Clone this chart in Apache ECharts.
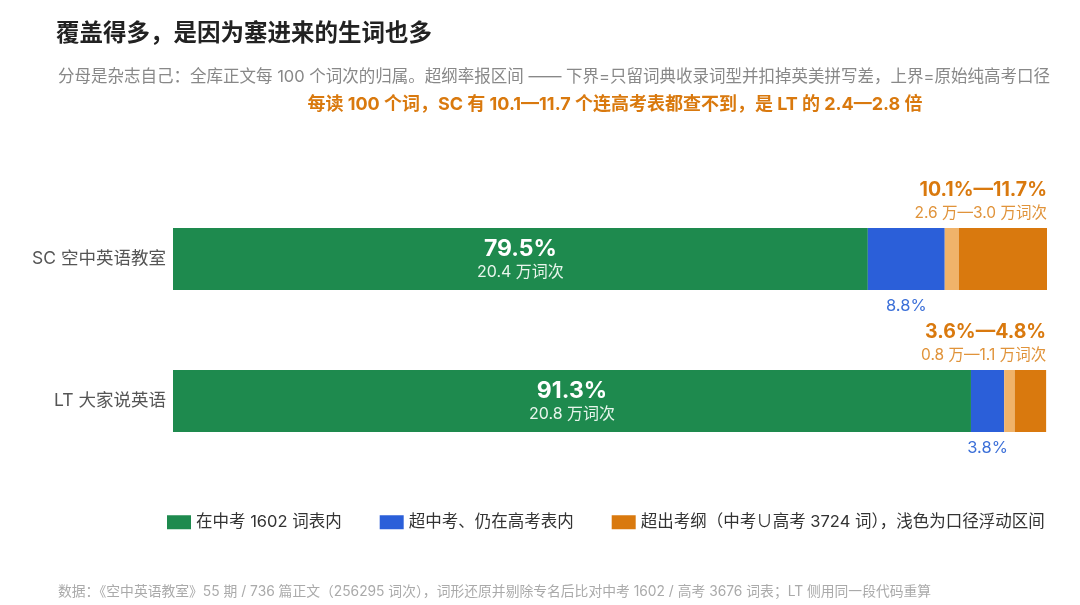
<!DOCTYPE html>
<html>
<head>
<meta charset="utf-8">
<script src="https://cdn.jsdelivr.net/npm/echarts@6/dist/echarts.min.js"></script>
<style>
  html, body { margin: 0; padding: 0; background: #fff; }
  #main { width: 1080px; height: 605px; }
</style>
</head>
<body>
<div id="main"></div>
<script>
var categories = ['SC 空中英语教室', 'LT 大家说英语'];
var inZhongkao = [79.5, 91.3];
var inGaokao = [8.8, 3.8];
var beyondLow = [10.1, 3.6];
var beyondHigh = [11.7, 4.8];
var tokensIn = ['20.4', '20.8'];
var tokensBeyondLow = ['2.6', '0.8'];
var tokensBeyondHigh = ['3.0', '1.1'];

var legendNames = ['在中考 1602 词表内', '超中考、仍在高考表内', '超出考纲（中考∪高考 3724 词），浅色为口径浮动区间'];
var font = 'Inter, "Noto Sans CJK SC", sans-serif';

// light part = upper bound minus lower bound
var beyondFloat = beyondHigh.map(function (v, i) {
    return +(v - beyondLow[i]).toFixed(1);
});

var dom = document.getElementById('main');
var myChart = echarts.init(dom);

var option = {
    backgroundColor: '#fff',
    textStyle: { fontFamily: font },
    title: [{
        text: '覆盖得多，是因为塞进来的生词也多',
        left: 51,
        top: 17,
        textStyle: { fontSize: 23.5, fontWeight: 'bold', color: '#222', fontFamily: font }
    }, {
        text: '分母是杂志自己：全库正文每 100 个词次的归属。超纲率报区间 —— 下界=只留词典收录词型并扣掉英美拼写差，上界=原始纯高考口径',
        left: 53,
        top: 64,
        textStyle: { fontSize: 16.5, fontWeight: 'normal', color: '#888', fontFamily: font }
    }, {
        text: '每读 100 个词，SC 有 10.1—11.7 个连高考表都查不到，是 LT 的 2.4—2.8 倍',
        left: 610,
        textAlign: 'center',
        top: 91,
        textStyle: { fontSize: 18, fontWeight: 'bold', color: '#d9790e', fontFamily: font }
    }, {
        text: '数据：《空中英语教室》55 期 / 736 篇正文（256295 词次），词形还原并剔除专名后比对中考 1602 / 高考 3676 词表；LT 侧用同一段代码重算',
        left: 53,
        top: 580,
        textStyle: { fontSize: 13.8, fontWeight: 'normal', color: '#aaa', fontFamily: font }
    }],
    legend: {
        data: legendNames,
        top: 509,
        left: 162,
        itemWidth: 24,
        itemHeight: 14,
        itemGap: 38,
        icon: 'rect',
        textStyle: { fontSize: 16.5, color: '#333', fontFamily: font },
        selectedMode: false
    },
    grid: {
        left: 173,
        right: 33,
        top: 188,
        height: 284
    },
    xAxis: {
        type: 'value',
        min: 0,
        max: 100,
        show: false
    },
    yAxis: {
        type: 'category',
        data: categories,
        inverse: true,
        axisLine: { show: false },
        axisTick: { show: false },
        axisLabel: { fontSize: 17.5, color: '#555', margin: 7, fontFamily: font }
    },
    series: [{
        name: legendNames[0],
        type: 'bar',
        stack: 'all',
        barWidth: 62,
        itemStyle: { color: '#1e8a4e' },
        label: {
            show: true,
            position: 'inside',
            formatter: function (p) {
                return '{big|' + p.value + '%}\n{small|' + tokensIn[p.dataIndex] + ' 万词次}';
            },
            rich: {
                big: { fontSize: 23, fontWeight: 'bold', color: '#fff', lineHeight: 26, fontFamily: font },
                small: { fontSize: 16, color: '#e8f5ec', lineHeight: 20, fontFamily: font }
            }
        },
        data: inZhongkao
    }, {
        name: legendNames[1],
        type: 'bar',
        stack: 'all',
        itemStyle: { color: '#2b5fd9' },
        label: {
            show: true,
            position: 'bottom',
            distance: 8,
            formatter: '{c}%',
            fontSize: 16.5,
            color: '#3b6fd8',
            fontFamily: font
        },
        data: inGaokao
    }, {
        name: 'float',
        type: 'bar',
        stack: 'all',
        itemStyle: { color: '#f0b36a' },
        data: beyondFloat
    }, {
        name: legendNames[2],
        type: 'bar',
        stack: 'all',
        itemStyle: { color: '#d9790e' },
        label: {
            show: true,
            position: ['100%', -5],
            align: 'right',
            verticalAlign: 'bottom',
            formatter: function (p) {
                var i = p.dataIndex;
                return '{big|' + beyondLow[i] + '%—' + beyondHigh[i] + '%}\n{small|' +
                    tokensBeyondLow[i] + ' 万—' + tokensBeyondHigh[i] + ' 万词次}';
            },
            rich: {
                big: { fontSize: 19.5, fontWeight: 'bold', color: '#d9790e', lineHeight: 25, align: 'right', fontFamily: font },
                small: { fontSize: 15.5, color: '#e0933a', lineHeight: 20, align: 'right', fontFamily: font }
            }
        },
        data: beyondLow
    }]
};

if (option && typeof option === 'object') {
    myChart.setOption(option, true);
}
</script>
</body>
</html>
